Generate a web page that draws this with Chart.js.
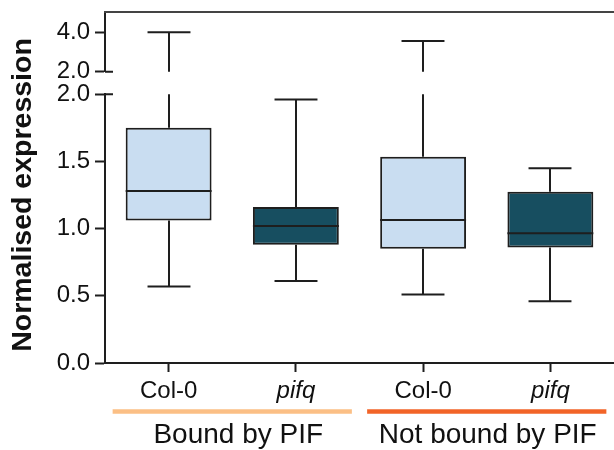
<!DOCTYPE html>
<html>
<head>
<meta charset="utf-8">
<script src="https://cdn.jsdelivr.net/npm/chart.js@4"></script>
<style>
  html, body { margin: 0; padding: 0; background: #fff; }
</style>
</head>
<body>
<canvas id="box-chart" width="614" height="450"></canvas>
<script>
// data
const categories = ['Col-0', 'pifq', 'Col-0', 'pifq'];
const groups = ['Bound by PIF', 'Not bound by PIF'];
const mins = [0.57, 0.61, 0.51, 0.46];
const q1 = [1.06, 0.88, 0.85, 0.86];
const medians = [1.28, 1.02, 1.065, 0.965];
const q3 = [1.75, 1.16, 1.535, 1.275];
const maxs = [4.0, 1.96, 3.56, 1.45];
const lowerTicks = [0, 0.5, 1.0, 1.5, 2.0];
const upperTicks = [2.0, 4.0];

const FONT = "'Liberation Sans', Arial, sans-serif";
const INK = '#1e1e1e';
const boxColors = ['#c9ddf1', '#174e60', '#c9ddf1', '#174e60'];
const groupColors = ['#fbbf85', '#f26428'];

function fixedWidth(s) { s.width = 105; }

const boxExtras = {
    id: 'boxExtras',
    beforeDatasetsDraw(chart) {
        const ctx = chart.ctx;
        const lower = chart.scales.y;
        const upper = chart.scales.yTop;
        const bars = chart.getDatasetMeta(0).data;
        ctx.save();
        ctx.strokeStyle = INK;
        ctx.lineWidth = 2;
        bars.forEach(function (bar, i) {
            const x = Math.round(bar.x);
            const half = bar.width / 4;
            ctx.beginPath();
            // lower whisker
            ctx.moveTo(x, lower.getPixelForValue(q1[i]));
            ctx.lineTo(x, lower.getPixelForValue(mins[i]));
            ctx.moveTo(x - half, lower.getPixelForValue(mins[i]));
            ctx.lineTo(x + half, lower.getPixelForValue(mins[i]));
            // upper whisker, broken across the axis gap
            ctx.moveTo(x, lower.getPixelForValue(q3[i]));
            if (maxs[i] > lower.max) {
                ctx.lineTo(x, lower.getPixelForValue(lower.max));
                ctx.moveTo(x, upper.getPixelForValue(upper.min));
                ctx.lineTo(x, upper.getPixelForValue(maxs[i]));
                ctx.moveTo(x - half, upper.getPixelForValue(maxs[i]));
                ctx.lineTo(x + half, upper.getPixelForValue(maxs[i]));
            } else {
                ctx.lineTo(x, lower.getPixelForValue(maxs[i]));
                ctx.moveTo(x - half, lower.getPixelForValue(maxs[i]));
                ctx.lineTo(x + half, lower.getPixelForValue(maxs[i]));
            }
            ctx.stroke();
        });
        ctx.restore();
    },
    afterDatasetsDraw(chart) {
        // median lines across each box
        const ctx = chart.ctx;
        const lower = chart.scales.y;
        const bars = chart.getDatasetMeta(0).data;
        ctx.save();
        ctx.strokeStyle = INK;
        ctx.lineWidth = 2;
        ctx.beginPath();
        bars.forEach(function (bar, i) {
            const y = lower.getPixelForValue(medians[i]);
            ctx.moveTo(bar.x - bar.width / 2, y);
            ctx.lineTo(bar.x + bar.width / 2, y);
        });
        ctx.stroke();
        ctx.restore();
    },
    afterDraw(chart) {
        const ctx = chart.ctx;
        const area = chart.chartArea;
        const lower = chart.scales.y;
        const upper = chart.scales.yTop;
        const xs = chart.scales.x;
        ctx.save();

        // top frame line
        ctx.strokeStyle = '#444';
        ctx.lineWidth = 2;
        ctx.beginPath();
        ctx.moveTo(area.left - 1, area.top);
        ctx.lineTo(area.right, area.top);
        ctx.stroke();

        // break marks on the right of the y axis
        ctx.strokeStyle = INK;
        ctx.beginPath();
        ctx.moveTo(area.left, upper.bottom);
        ctx.lineTo(area.left + 8, upper.bottom);
        ctx.moveTo(area.left, lower.top);
        ctx.lineTo(area.left + 8, lower.top);
        ctx.stroke();

        // y title
        ctx.fillStyle = '#111';
        ctx.font = 'bold 28.5px ' + FONT;
        ctx.textAlign = 'center';
        ctx.textBaseline = 'middle';
        ctx.translate(23, 195);
        ctx.rotate(-Math.PI / 2);
        ctx.fillText('Normalised expression', 0, 0);
        ctx.setTransform(1, 0, 0, 1, 0, 0);

        // group bars and labels
        const step = xs.getPixelForValue(1) - xs.getPixelForValue(0);
        groups.forEach(function (g, k) {
            const a = xs.getPixelForValue(k * 2) - step * 0.44;
            const b = xs.getPixelForValue(k * 2 + 1) + step * 0.44;
            ctx.strokeStyle = groupColors[k];
            ctx.lineWidth = 4.5;
            ctx.beginPath();
            ctx.moveTo(a, 411.5);
            ctx.lineTo(b, 411.5);
            ctx.stroke();
            ctx.fillStyle = '#111';
            ctx.font = '28px ' + FONT;
            ctx.textAlign = 'center';
            ctx.textBaseline = 'alphabetic';
            ctx.fillText(g, (a + b) / 2 + (k === 0 ? 6 : 1), 443);
        });
        ctx.restore();
    }
};

const yTickStyle = {
    color: '#111',
    padding: 5,
    font: { family: FONT, size: 24, lineHeight: 0.5 },
    callback: function (v) { return Number(v).toFixed(1); }
};
const yGrid = { display: true, drawOnChartArea: false, drawTicks: true, tickLength: 10, tickWidth: 2, tickColor: INK };

new Chart(document.getElementById('box-chart').getContext('2d'), {
    type: 'bar',
    data: {
        labels: categories,
        datasets: [{
            label: 'interquartile range',
            data: categories.map(function (c, i) { return [q1[i], q3[i]]; }),
            backgroundColor: boxColors,
            borderColor: INK,
            borderWidth: 2,
            borderSkipped: false,
            barPercentage: 0.675,
            categoryPercentage: 1,
            yAxisID: 'y'
        }]
    },
    options: {
        responsive: false,
        animation: false,
        events: [],
        layout: { padding: { top: 12, left: 0, right: 0, bottom: 0 } },
        plugins: {
            legend: { display: false },
            tooltip: { enabled: false }
        },
        scales: {
            x: {
                offset: true,
                grid: { display: true, offset: false, drawOnChartArea: false, drawTicks: true, tickLength: 9, tickWidth: 2, tickColor: INK },
                border: { display: true, color: INK, width: 2 },
                ticks: {
                    color: '#111',
                    padding: 5,
                    maxRotation: 0,
                    font: function (c) {
                        return { family: FONT, size: 24, lineHeight: 1.2, style: c.index % 2 ? 'italic' : 'normal' };
                    }
                },
                afterFit: function (s) { s.height = 87; }
            },
            y: {
                stack: 'ybreak',
                stackWeight: 269,
                position: 'left',
                min: 0,
                max: 2,
                afterBuildTicks: function (s) { s.ticks = lowerTicks.map(function (v) { return { value: v }; }); },
                ticks: yTickStyle,
                grid: yGrid,
                border: { display: true, color: INK, width: 2 },
                afterFit: fixedWidth
            },
            yGap: {
                stack: 'ybreak',
                stackWeight: 22.6,
                position: 'left',
                min: 0,
                max: 1,
                ticks: { display: false },
                grid: { display: false },
                border: { display: false },
                afterFit: fixedWidth
            },
            yTop: {
                stack: 'ybreak',
                stackWeight: 59.7,
                position: 'left',
                min: 2,
                max: 5.03,
                afterBuildTicks: function (s) { s.ticks = upperTicks.map(function (v) { return { value: v }; }); },
                ticks: yTickStyle,
                grid: yGrid,
                border: { display: true, color: INK, width: 2 },
                afterFit: fixedWidth
            }
        }
    },
    plugins: [boxExtras]
});
</script>
</body>
</html>
